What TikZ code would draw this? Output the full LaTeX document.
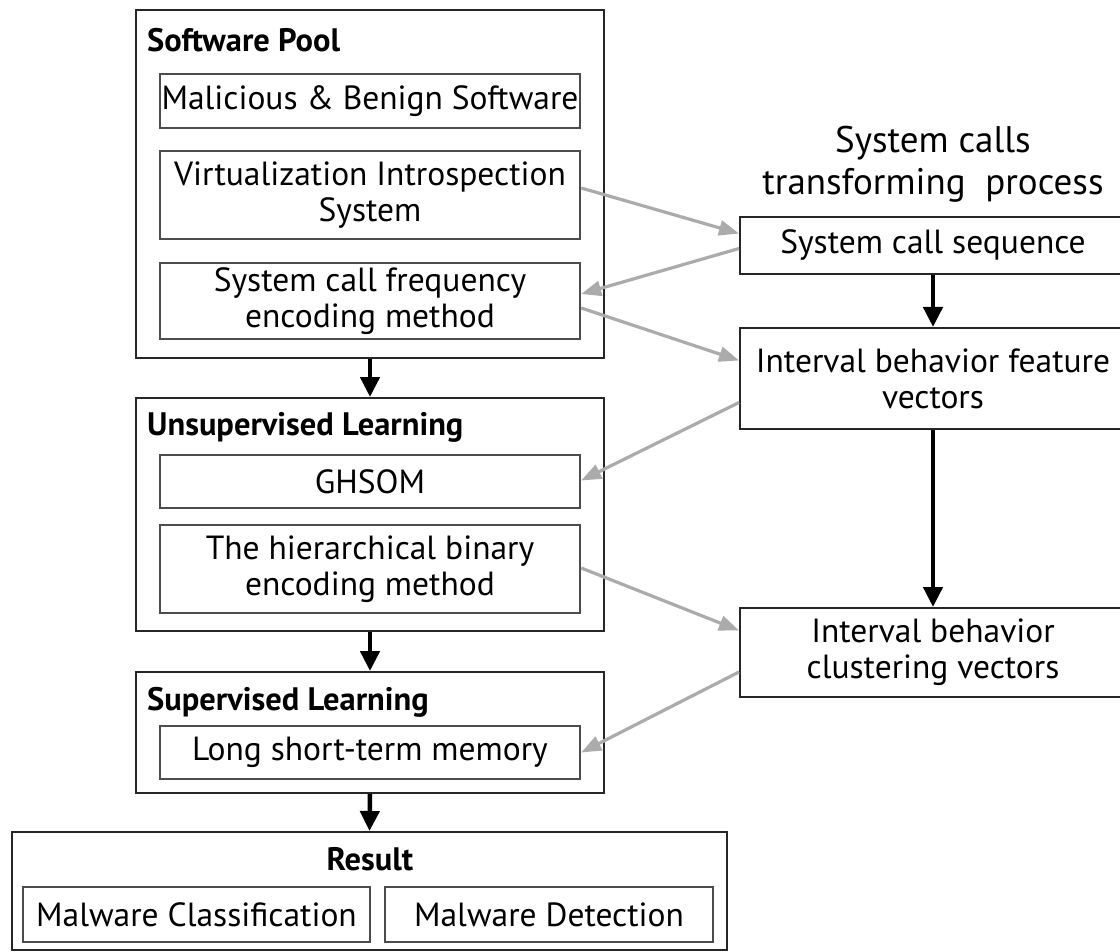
\documentclass[tikz,border=0pt]{standalone}
\usepackage{fontspec}
\setmainfont{PT Sans}
\usetikzlibrary{arrows.meta,calc}
\begin{document}
\begin{tikzpicture}[x=1pt,y=-1pt,
  txt/.style={font=\fontsize{33.5}{36}\selectfont},
  outerbox/.style={draw=black!85, line width=2pt, fill=white, inner sep=0pt},
  innerbox/.style={draw=black!70, line width=2.4pt, fill=white, inner sep=0pt, align=center, txt},
  sidebox/.style={draw=black!85, line width=2pt, fill=white, inner sep=0pt, align=center, txt},
  headfont/.style={font=\fontsize{32.5}{36}\selectfont\bfseries, inner sep=0pt},
  heading/.style={headfont, anchor=base west},
  flow/.style={draw=black, line width=4.5pt, -{Triangle[length=20pt,width=19pt]}},
  link/.style={draw=black!33, line width=3.2pt, -{Triangle[length=20pt,width=15pt]}}
]
\useasboundingbox (0,0) rectangle (1120,952);
\fill[white] (0,0) rectangle (1120,952);

% left column: stage containers
\node[outerbox, minimum width=468pt, minimum height=348pt] (pool)  at (370,184) {};
\node[outerbox, minimum width=468pt, minimum height=233pt] (unsup) at (370,514.5) {};
\node[outerbox, minimum width=468pt, minimum height=121pt] (sup)   at (370,732.5) {};
\node[outerbox, minimum width=715pt, minimum height=118pt] (res)   at (369.5,891) {};

% stage headings
\node[heading] (poolT)  at (147,52)  {Software Pool};
\node[heading] (unsupT) at (147,435) {Unsupervised Learning};
\node[heading] (supT)   at (147,710) {Supervised Learning};
\node[headfont, anchor=base] (resT) at (370,870) {Result};

% components inside the stages
\node[innerbox, minimum width=420pt, minimum height=54pt] (mal)   at (370,101)   {Malicious \& Benign Software};
\node[innerbox, minimum width=420pt, minimum height=88pt] (virt)  at (370,195)   {Virtualization Introspection\\System};
\node[innerbox, minimum width=420pt, minimum height=76pt] (freq)  at (370,301)   {System call frequency\\encoding method};
\node[innerbox, minimum width=420pt, minimum height=53pt] (ghsom) at (370,481.5) {GHSOM};
\node[innerbox, minimum width=420pt, minimum height=88pt] (hier)  at (370,569)   {The hierarchical binary\\encoding method};
\node[innerbox, minimum width=420pt, minimum height=53pt] (lstm)  at (370,752.5) {Long short-term memory};
\node[innerbox, minimum width=347pt, minimum height=55pt] (cls)   at (196.5,914.5) {Malware Classification};
\node[innerbox, minimum width=328pt, minimum height=55pt] (det)   at (549,914.5)   {Malware Detection};

% right column: system call transformation
\node[align=center, inner sep=0pt, font=\fontsize{37}{42}\selectfont] (procT) at (933,164) {System calls\\transforming\ \ process};
\node[sidebox, minimum width=386pt, minimum height=57pt]  (seq)  at (933,245.5) {System call sequence};
\node[sidebox, minimum width=386pt, minimum height=101pt] (feat) at (933,378.5) {Interval behavior feature\\vectors};
\node[sidebox, minimum width=386pt, minimum height=89pt]  (clus) at (933,652.5) {Interval behavior\\clustering vectors};

% main flow
\draw[flow] (pool.south) -- (unsup.north);
\draw[flow] (unsup.south) -- (sup.north);
\draw[flow] (sup.south) -- (res.north);
\draw[flow] (seq.south) -- (feat.north);
\draw[flow] (feat.south) -- (clus.north);

% exchanges between the two columns
\draw[link] ([yshift=7pt]virt.east)     -- ([yshift=12pt]seq.west);
\draw[link] ([yshift=-3pt]seq.west)     -- ([yshift=7pt]freq.east);
\draw[link] ([yshift=-7pt]freq.east)    -- ([yshift=18pt]feat.west);
\draw[link] ([yshift=-24pt]feat.west)   -- ([yshift=1pt]ghsom.east);
\draw[link] ([yshift=1pt]hier.east)     -- ([yshift=22pt]clus.west);
\draw[link] ([yshift=-19.5pt]clus.west) -- ([yshift=0pt]lstm.east);
\end{tikzpicture}
\end{document}
